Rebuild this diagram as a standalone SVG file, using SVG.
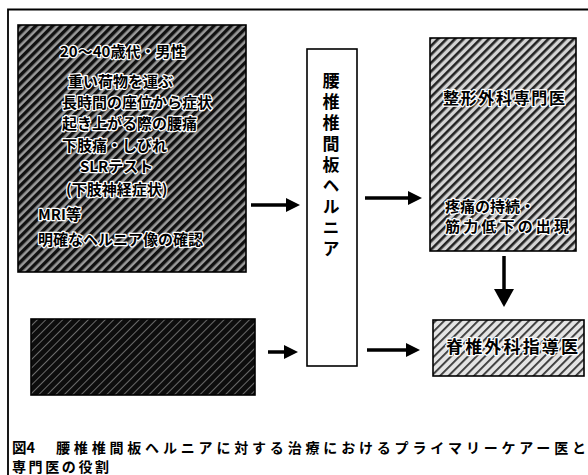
<svg xmlns="http://www.w3.org/2000/svg" width="588" height="475" viewBox="0 0 588 475">
<style>
.jp{font-family:"Noto Sans CJK JP","Noto Sans CJK SC",sans-serif;font-weight:700;fill:#000}
.halo{stroke:#fff;stroke-width:2.5;paint-order:stroke;stroke-linejoin:round}
.box{stroke:#000;stroke-width:1.6}
.conn{stroke:#000;stroke-width:3.5;fill:none}
</style>
<defs>
<pattern id="hatchDark" width="6" height="6" patternUnits="userSpaceOnUse" patternTransform="rotate(45)">
<rect width="6" height="6" fill="#9a9a9a"/><rect width="3.4" height="6" fill="#111"/>
</pattern>
<pattern id="hatchMid" width="6" height="6" patternUnits="userSpaceOnUse" patternTransform="rotate(45)">
<rect width="6" height="6" fill="#d4d4d4"/><rect width="2.6" height="6" fill="#222"/>
</pattern>
<pattern id="hatchLight" width="6" height="6" patternUnits="userSpaceOnUse" patternTransform="rotate(45)">
<rect width="6" height="6" fill="#e4e4e4"/><rect width="1.8" height="6" fill="#333"/>
</pattern>
<pattern id="hatchBlack" width="6" height="6" patternUnits="userSpaceOnUse" patternTransform="rotate(45)">
<rect width="6" height="6" fill="#0d0d0d"/><rect width="1" height="6" fill="#6a6a6a"/>
</pattern>
<marker id="ah" markerUnits="userSpaceOnUse" markerWidth="15" markerHeight="16" refX="1" refY="7" orient="auto">
<path d="M0,0 L14,7 L0,14 z" fill="#000"/>
</marker>
<marker id="ahd" markerUnits="userSpaceOnUse" markerWidth="20" markerHeight="22" refX="1" refY="10" orient="auto">
<path d="M0,0 L18,10 L0,20 z" fill="#000"/>
</marker>
</defs>
<rect width="588" height="475" fill="#fff"/>
<g id="frame">
<path d="M8,475 V9.5 H588" fill="none" stroke="#000" stroke-width="1.8"/>
</g>
<g id="primary-care">
<rect class="box" x="18" y="25" width="228" height="247" fill="url(#hatchDark)"/>
<text class="jp halo" font-size="15">
<tspan x="60" y="57">20～40歳代・男性</tspan>
<tspan x="68" y="87">重い荷物を運ぶ</tspan>
<tspan x="62" y="108">長時間の座位から症状</tspan>
<tspan x="62" y="129">起き上がる際の腰痛</tspan>
<tspan x="62" y="151">下肢痛・しびれ</tspan>
<tspan x="80" y="172">SLRテスト</tspan>
<tspan x="66" y="195">(下肢神経症状)</tspan>
<tspan x="38" y="220">MRI等</tspan>
<tspan x="38" y="245">明確なヘルニア像の確認</tspan>
</text>
</g>
<g id="primary-care-2">
<rect class="box" x="31" y="319" width="224" height="76" fill="url(#hatchBlack)"/>
</g>
<g id="hernia">
<rect class="box" x="307" y="49" width="50" height="317" fill="#fff"/>
<text class="jp" font-size="17" x="331" y="72" writing-mode="vertical-rl" letter-spacing="4">腰椎椎間板ヘルニア</text>
</g>
<g id="orthopedic">
<rect class="box" x="430" y="38" width="146" height="213" fill="url(#hatchMid)"/>
<text class="jp halo" font-size="16" x="443" y="104" textLength="122">整形外科専門医</text>
<text class="jp halo" font-size="15" x="445" y="212">疼痛の持続・</text>
<text class="jp halo" font-size="15" x="445" y="232" textLength="124">筋力低下の出現</text>
</g>
<g id="spine-surgeon">
<rect class="box" x="433" y="320" width="151" height="56" fill="url(#hatchLight)"/>
<text class="jp halo" font-size="17" x="446" y="353" textLength="132">脊椎外科指導医</text>
</g>
<g id="connectors">
<line class="conn" x1="251" y1="205" x2="287" y2="205" marker-end="url(#ah)"/>
<line class="conn" x1="365" y1="198" x2="409" y2="198" marker-end="url(#ah)"/>
<line class="conn" x1="504" y1="256" x2="504" y2="290" marker-end="url(#ahd)"/>
<line class="conn" x1="268" y1="352" x2="285" y2="352" marker-end="url(#ah)"/>
<line class="conn" x1="367" y1="350" x2="407" y2="350" marker-end="url(#ah)"/>
</g>
<g id="caption">
<text class="jp" font-size="14.5" x="12" y="453">図4</text>
<text class="jp" font-size="14" x="56" y="453" textLength="530" lengthAdjust="spacing">腰椎椎間板ヘルニアに対する治療におけるプライマリーケアー医と</text>
<text class="jp" font-size="14" x="12" y="471.5" textLength="97" lengthAdjust="spacing">専門医の役割</text>
</g>
</svg>
